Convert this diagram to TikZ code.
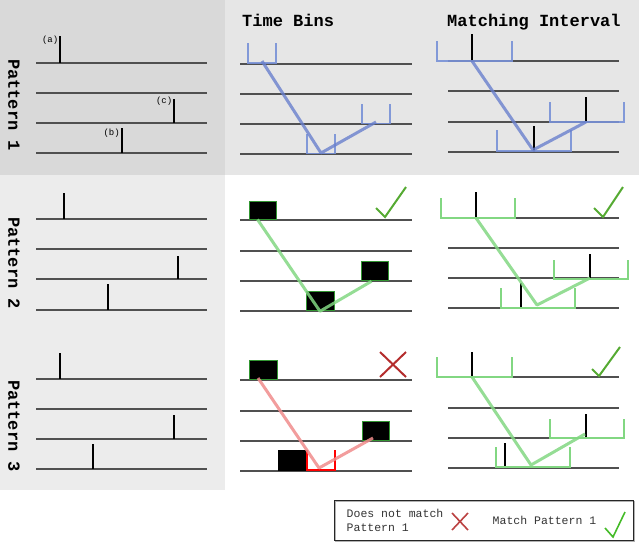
\documentclass[tikz,border=0pt]{standalone}
\usepackage{fontspec}
\setmonofont{Liberation Mono}
\definecolor{bgA}{RGB}{217,217,217}
\definecolor{bgB}{RGB}{230,230,230}
\definecolor{bgC}{RGB}{236,236,236}
\definecolor{tlgray}{RGB}{80,80,80}
\definecolor{bluec}{RGB}{105,128,205}
\definecolor{blueb}{RGB}{120,145,215}
\definecolor{greenc}{RGB}{130,215,130}
\definecolor{greenbox}{RGB}{50,150,50}
\definecolor{checkc}{RGB}{85,170,50}
\definecolor{redc}{RGB}{240,140,140}
\definecolor{xred}{RGB}{180,45,45}
\begin{document}
\begin{tikzpicture}[x=1pt,y=-1pt,
  tline/.style={draw=tlgray,line width=1.2pt},
  spike/.style={draw=black,line width=2.6pt},
  bbracket/.style={draw=blueb,line width=1.6pt,opacity=0.9},
  bconn/.style={draw=bluec,line width=3pt,opacity=0.8,line join=round},
  gbracket/.style={draw=greenc,line width=1.8pt},
  gconn/.style={draw=greenc,line width=3pt,opacity=0.85,line join=round},
  rconn/.style={draw=redc,line width=3pt,opacity=0.85,line join=round},
  binbox/.style={fill=black,draw=greenbox,line width=1pt},
  checkmark/.style={draw=checkc,line width=2pt},
  xmark/.style={draw=xred,line width=2pt},
  title/.style={font=\ttfamily\bfseries\fontsize{17}{17}\selectfont,inner sep=0pt,anchor=base west},
  plabel/.style={font=\ttfamily\bfseries\fontsize{17}{17}\selectfont,inner sep=0pt,rotate=-90},
  small/.style={font=\ttfamily\fontsize{9}{9}\selectfont,inner sep=0pt,anchor=east},
  legtext/.style={font=\ttfamily\fontsize{11.5}{14}\selectfont,inner sep=0pt,text=black!80,align=left}
]
\useasboundingbox (0,0) rectangle (640,542);
% backgrounds
\fill[bgA] (0,0) rectangle (225,175);
\fill[bgB] (225,0) rectangle (639,175);
\fill[bgC] (0,175) rectangle (225,490);

% titles
\node[title] (tb) at (242,26) {Time Bins};
\node[title] (mi) at (447,26) {Matching Interval};
\node[plabel] (p1) at (14,105) {Pattern 1};
\node[plabel] (p2) at (14,263) {Pattern 2};
\node[plabel] (p3) at (14,426) {Pattern 3};

% ---------- Row 1 ----------
\foreach \y in {63,93,123,153} \draw[tline] (36,\y) -- (207,\y);
\draw[spike] (60,36) -- (60,63);
\draw[spike] (174,99) -- (174,123);
\draw[spike] (122,128) -- (122,153);
\node[small] (la) at (58.5,40.5) {(a)};
\node[small] (lc) at (172.5,101) {(c)};
\node[small] (lb) at (120,133) {(b)};

\foreach \y in {64,94,124,154} \draw[tline] (240,\y) -- (412,\y);
\draw[bbracket] (248,43) -- (248,63) -- (276,63) -- (276,43);
\draw[bbracket] (307,134) -- (307,153.5) -- (335,153.5) -- (335,134);
\draw[bbracket] (362,104) -- (362,123.5) -- (390,123.5) -- (390,104);
\coordinate (b1a) at (262,61);
\coordinate (b1b) at (321,153);
\coordinate (b1c) at (376,122);
\draw[bconn] (b1a) -- (b1b) -- (b1c);

\foreach \y in {61,91,122,152} \draw[tline] (448,\y) -- (619,\y);
\draw[spike] (472,34) -- (472,61);
\draw[spike] (586,97) -- (586,122);
\draw[spike] (534,126) -- (534,152);
\draw[bbracket] (437,41) -- (437,61) -- (512,61) -- (512,41);
\draw[bbracket] (550,102) -- (550,122) -- (624,122) -- (624,102);
\draw[bbracket] (497,130) -- (497,151) -- (571,151) -- (571,130);
\coordinate (m1a) at (472,61);
\coordinate (m1b) at (533,150);
\coordinate (m1c) at (586,122);
\draw[bconn] (m1a) -- (m1b) -- (m1c);

% ---------- Row 2 ----------
\foreach \y in {219,249,279,310} \draw[tline] (36,\y) -- (207,\y);
\draw[spike] (64,193) -- (64,219);
\draw[spike] (178,256) -- (178,279);
\draw[spike] (108,284) -- (108,310);

\foreach \y in {220,251,281,311} \draw[tline] (240,\y) -- (412,\y);
\node[binbox,minimum width=27pt,minimum height=18pt,inner sep=0pt] (t2a) at (262.5,210) {};
\node[binbox,minimum width=28pt,minimum height=19.5pt,inner sep=0pt] (t2b) at (320,301) {};
\node[binbox,minimum width=27pt,minimum height=19.5pt,inner sep=0pt] (t2c) at (374.5,271) {};
\draw[gconn] (t2a.south west) ++(9,0) coordinate (g2a) (g2a) -- (t2b.south) -- ([xshift=-3pt]t2c.south);
\draw[checkmark] (376,208) -- (385,217) -- (406,187);

\foreach \y in {218,248,278,308} \draw[tline] (448,\y) -- (619,\y);
\draw[spike] (476,192) -- (476,218);
\draw[spike] (590,254) -- (590,278);
\draw[spike] (521,283) -- (521,308);
\draw[gbracket] (441,198) -- (441,218) -- (515,218) -- (515,198);
\draw[gbracket] (554,260) -- (554,279) -- (628,279) -- (628,260);
\draw[gbracket] (501,288) -- (501,308) -- (575,308) -- (575,288);
\coordinate (m2a) at (476,218);
\coordinate (m2b) at (537,305);
\coordinate (m2c) at (590,278);
\draw[gconn] (m2a) -- (m2b) -- (m2c);
\draw[checkmark] (594,208) -- (603,217) -- (623,187);

% ---------- Row 3 ----------
\foreach \y in {379,409,439,469} \draw[tline] (36,\y) -- (207,\y);
\draw[spike] (60,353) -- (60,379);
\draw[spike] (174,415) -- (174,439);
\draw[spike] (93,444) -- (93,469);

\foreach \y in {380,411,441,471} \draw[tline] (240,\y) -- (412,\y);
\node[binbox,minimum width=28pt,minimum height=18.5pt,inner sep=0pt] (t3a) at (263,370) {};
\node[binbox,minimum width=27pt,minimum height=19pt,inner sep=0pt] (t3c) at (375.5,430.5) {};
\node[fill=black,minimum width=28pt,minimum height=21pt,inner sep=0pt] (t3b) at (292,460.5) {};
\draw[draw=red,line width=2pt] (307,450) -- (307,469.5) -- (335,469.5) -- (335,450);
\coordinate (r3a) at (258,378);
\coordinate (r3b) at (319,468);
\coordinate (r3c) at (373,438);
\draw[rconn] (r3a) -- (r3b) -- (r3c);
\draw[xmark] (380,352) -- (406,377) (406,352) -- (380,377);

\foreach \y in {377,408,438,468} \draw[tline] (448,\y) -- (619,\y);
\draw[spike] (472,352) -- (472,377);
\draw[spike] (586,414) -- (586,438);
\draw[spike] (505,443) -- (505,468);
\draw[gbracket] (437,357) -- (437,377) -- (512,377) -- (512,357);
\draw[gbracket] (550,419) -- (550,438) -- (624,438) -- (624,419);
\draw[gbracket] (496,447) -- (496,467) -- (570,467) -- (570,447);
\coordinate (m3a) at (472,377);
\coordinate (m3b) at (531,465);
\coordinate (m3c) at (585,434);
\draw[gconn] (m3a) -- (m3b) -- (m3c);
\draw[checkmark] (592,369) -- (599,376) -- (620,347);

% ---------- Legend ----------
\draw[gray!60,line width=1pt] (335,501) rectangle (634,541);
\draw[black!85,line width=1pt] (334,500) rectangle (633,540);
\node[legtext,anchor=west] (l1) at (346.5,520) {Does not match\\Pattern 1};
\draw[draw=xred!90,line width=1.6pt] (452,513) -- (468,530) (468,513) -- (452,530);
\node[legtext,anchor=west] (l2) at (492.5,520) {Match Pattern 1};
\draw[draw=checkc!80!green,line width=1.6pt] (605,528) -- (613,537) -- (625,512);
\end{tikzpicture}
\end{document}
